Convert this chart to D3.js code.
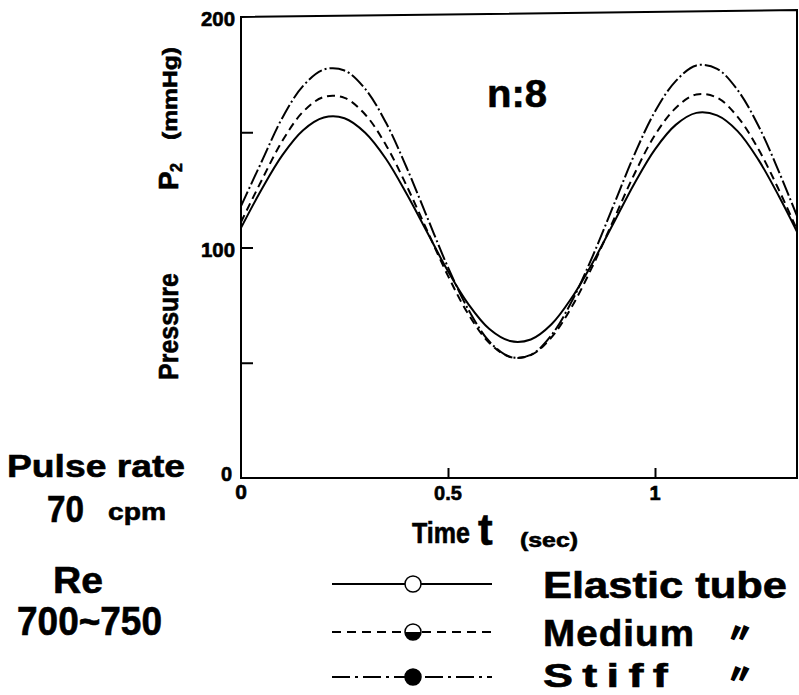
<!DOCTYPE html>
<html>
<head>
<meta charset="utf-8">
<script src="https://cdn.jsdelivr.net/npm/d3@7/dist/d3.min.js"></script>
<style>
  body { margin: 0; background: #fff; }
  svg { display: block; }
  svg text { stroke: #000; stroke-width: 0.6px; }
</style>
</head>
<body>
<div id="chart"></div>
<script>
// time samples (sec) and pressure P2 (mmHg)
const times   = [0, 0.05, 0.1, 0.15, 0.2, 0.25, 0.3, 0.35, 0.4, 0.45, 0.5, 0.55, 0.6, 0.65, 0.7,
                 0.75, 0.8, 0.85, 0.9, 0.95, 1.0, 1.05, 1.1, 1.15, 1.2, 1.25, 1.3, 1.35];
const elastic = [108.5, 125.3, 140.1, 150.9, 156.4, 156.1, 149.8, 138.5, 123.3, 106.5, 89.7, 75.2, 64.6, 59.4, 60.1,
                 66.7, 78.5, 93.6, 110.6, 127.7, 142.6, 153.2, 158.4, 157.3, 150.4, 138.0, 122.0, 104.3];
const medium  = [111.0, 129.2, 146.3, 158.9, 165.3, 164.9, 157.7, 144.5, 126.8, 107.2, 87.7, 70.8, 58.6, 52.5, 53.3,
                 61.0, 74.6, 92.2, 112.0, 131.8, 148.8, 160.5, 166.4, 165.0, 156.6, 142.6, 124.7, 104.9];
const stiff   = [118.0, 137.3, 156.3, 170.1, 177.2, 176.8, 168.8, 154.2, 134.7, 113.0, 91.4, 72.8, 59.2, 52.6, 53.4,
                 62.0, 77.0, 96.5, 118.3, 140.2, 159.0, 172.2, 179.0, 177.5, 168.2, 152.7, 132.6, 110.5];

const yTicks = [50, 100, 150];
const yLabels = [100, 200];
const xTicks = [0.5, 1];
const xLabels = ["0.5", "1"];
const tMax = 1.343;

const seriesNames = ["Elastic tube", "Medium", "Stiff"];
const dashes = [null, "8,5", "16,3,2,3"];
const legendDashes = [null, "9,6", "18,5,3,5"];

const W = 799, H = 695;
const FONT = "'Liberation Sans', Arial, sans-serif";

const svg = d3.select("#chart").append("svg")
    .attr("width", W).attr("height", H)
    .style("font-family", FONT)
    .style("font-weight", "bold");

const x = d3.scaleLinear().domain([0, 1]).range([241, 655]);
const y = d3.scaleLinear().domain([0, 200]).range([478, 17]);

// plot frame (top edge slightly tilted like the print)
svg.append("path")
    .attr("d", `M${x(0)},${y(200)} L${x(tMax)},${y(203)} L${x(tMax)},${y(0)} L${x(0)},${y(0)} Z`)
    .attr("fill", "none").attr("stroke", "#000").attr("stroke-width", 2);

svg.append("clipPath").attr("id", "clip")
  .append("rect")
    .attr("x", x(0)).attr("y", 0)
    .attr("width", x(tMax) - x(0)).attr("height", y(0));

// inward ticks
svg.append("g")
    .attr("transform", `translate(${x(0)},0)`)
    .call(d3.axisLeft(y).tickValues(yTicks).tickSize(-12).tickFormat(""))
    .call(g => g.select(".domain").remove())
    .call(g => g.selectAll("line").attr("stroke-width", 2));

svg.append("g")
    .attr("transform", `translate(0,${y(0)})`)
    .call(d3.axisBottom(x).tickValues(xTicks).tickSize(-10).tickFormat(""))
    .call(g => g.select(".domain").remove())
    .call(g => g.selectAll("line").attr("stroke-width", 2));

// tick labels
svg.selectAll(".ylab").data(yLabels).join("text")
    .attr("x", 235).attr("y", d => y(d) + 9)
    .attr("text-anchor", "end").attr("font-size", 20)
    .attr("textLength", 34).attr("lengthAdjust", "spacingAndGlyphs")
    .text(d => d);
svg.append("text").attr("x", 232).attr("y", 481)
    .attr("text-anchor", "end").attr("font-size", 20).text("0");
svg.append("text").attr("x", x(0)).attr("y", 499)
    .attr("text-anchor", "middle").attr("font-size", 21).text("0");
svg.selectAll(".xlab").data(xTicks).join("text")
    .attr("x", d => x(d)).attr("y", 500)
    .attr("text-anchor", "middle").attr("font-size", 20)
    .text((d, i) => xLabels[i]);

// curves
const line = d3.line()
    .x(d => x(d[0])).y(d => y(d[1]))
    .curve(d3.curveCatmullRom);

const allSeries = [elastic, medium, stiff];
svg.append("g").attr("clip-path", "url(#clip)")
  .selectAll("path").data(allSeries).join("path")
    .attr("d", s => line(times.map((t, i) => [t, s[i]])))
    .attr("fill", "none")
    .attr("stroke", "#000")
    .attr("stroke-width", 2)
    .attr("stroke-dasharray", (s, i) => dashes[i]);

// y axis title (rotated)
const rot = (px, py) => `translate(${px},${py}) rotate(-90)`;
svg.append("text").attr("transform", rot(178, 380))
    .attr("font-size", 28).attr("textLength", 107).attr("lengthAdjust", "spacingAndGlyphs")
    .text("Pressure");
svg.append("text").attr("transform", rot(178, 190))
    .attr("font-size", 28).text("P");
svg.append("text").attr("transform", rot(182, 172))
    .attr("font-size", 16).text("2");
svg.append("text").attr("transform", rot(177, 140))
    .attr("font-size", 21).attr("textLength", 93).attr("lengthAdjust", "spacingAndGlyphs")
    .text("(mmHg)");

// x axis title
svg.append("text").attr("x", 412).attr("y", 543)
    .attr("font-size", 29).attr("textLength", 58).attr("lengthAdjust", "spacingAndGlyphs")
    .text("Time");
svg.append("text").attr("x", 478).attr("y", 545)
    .attr("font-size", 44).text("t");
svg.append("text").attr("x", 520).attr("y", 547)
    .attr("font-size", 20).attr("textLength", 58).attr("lengthAdjust", "spacingAndGlyphs")
    .text("(sec)");

// n:8
svg.append("text").attr("x", 487).attr("y", 107)
    .attr("font-size", 38).attr("textLength", 60).attr("lengthAdjust", "spacingAndGlyphs")
    .text("n:8");

// left annotations
svg.append("text").attr("x", 7).attr("y", 477)
    .attr("font-size", 32).attr("textLength", 178).attr("lengthAdjust", "spacingAndGlyphs")
    .text("Pulse rate");
svg.append("text").attr("x", 47).attr("y", 522)
    .attr("font-size", 37).attr("textLength", 37).attr("lengthAdjust", "spacingAndGlyphs")
    .text("70");
svg.append("text").attr("x", 108).attr("y", 520)
    .attr("font-size", 24).attr("textLength", 58).attr("lengthAdjust", "spacingAndGlyphs")
    .text("cpm");
svg.append("text").attr("x", 53).attr("y", 593)
    .attr("font-size", 36).attr("textLength", 50).attr("lengthAdjust", "spacingAndGlyphs")
    .text("Re");
svg.append("text").attr("x", 17).attr("y", 635)
    .attr("font-size", 40).attr("textLength", 145).attr("lengthAdjust", "spacingAndGlyphs")
    .text("700~750");

// legend
const legY = [584, 632, 677];
const labY = [598, 646, 687];
const labSize = [36, 36, 34];
const labLen = [244, 152, 134];
const labSpacing = [0, 1, 7];
const leg = svg.append("g");
seriesNames.forEach((name, i) => {
  leg.append("line")
      .attr("x1", 332).attr("x2", 492)
      .attr("y1", legY[i]).attr("y2", legY[i])
      .attr("stroke", "#000").attr("stroke-width", 2)
      .attr("stroke-dasharray", legendDashes[i]);
  leg.append("circle")
      .attr("cx", 413).attr("cy", legY[i]).attr("r", 8)
      .attr("fill", i === 2 ? "#000" : "#fff")
      .attr("stroke", "#000").attr("stroke-width", 1.5);
  if (i === 1) {
    leg.append("path")
        .attr("d", `M405,${legY[i]} A8,8 0 0 0 421,${legY[i]} Z`)
        .attr("fill", "#000");
  }
  leg.append("text")
      .attr("x", 543).attr("y", labY[i])
      .attr("font-size", labSize[i])
      .style("letter-spacing", labSpacing[i] + "px")
      .attr("textLength", labLen[i])
      .attr("lengthAdjust", "spacingAndGlyphs")
      .text(name);
  if (i > 0) {
    leg.append("text")
        .attr("x", 740).attr("y", labY[i] - 4)
        .attr("text-anchor", "middle")
        .attr("font-family", "'Noto Sans CJK JP', sans-serif")
        .attr("font-weight", 900)
        .attr("font-size", 26)
        .style("stroke-width", "1.5px")
        .text("〃");
  }
});
</script>
</body>
</html>
